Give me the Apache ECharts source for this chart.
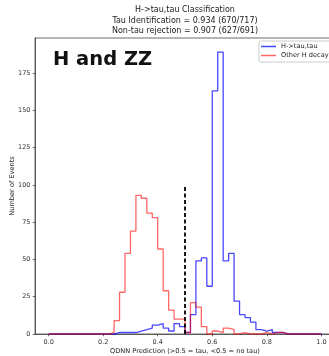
<!DOCTYPE html>
<html>
<head>
<meta charset="utf-8">
<script src="https://cdn.jsdelivr.net/npm/echarts@6/dist/echarts.min.js"></script>
<style>html,body{margin:0;padding:0;background:#fff;}#c{width:329px;height:356px;}</style>
</head>
<body>
<div id="c"></div>
<script>
// bin edges: 0.00 .. 1.00 step 0.02 (50 bins)
const binEdges = [0.00,0.02,0.04,0.06,0.08,0.10,0.12,0.14,0.16,0.18,0.20,0.22,0.24,0.26,0.28,0.30,0.32,0.34,0.36,0.38,0.40,0.42,0.44,0.46,0.48,0.50,0.52,0.54,0.56,0.58,0.60,0.62,0.64,0.66,0.68,0.70,0.72,0.74,0.76,0.78,0.80,0.82,0.84,0.86,0.88,0.90,0.92,0.94,0.96,0.98,1.00];
const tauCounts = [0,0,0,0,0,0,0,0,0,0, 0,0,1,1,1,1,2,3,4,6, 7,4,2,7,5,1,13,49,51,32, 163,189,49,54,22,13,11,8,3,2, 3,1,1,0,0,0,0,0,0,0];
const otherCounts = [0,0,0,0,0,0,0,0,0,0, 0,1,9,28,54,69,93,91,81,78, 57,29,16,10,10,1,21,18,5,0, 2,1,4,3,0,1,0,0,0,1, 0,1,1,0,0,0,0,0,0,0];
const seriesNames = ['H->tau,tau','Other H decay'];
const xTicks = [0.0,0.2,0.4,0.6,0.8,1.0];
const yTicks = [0,25,50,75,100,125,150,175];
const cutValue = 0.5;
const cutHeight = 100;
const titleLines = ['H->tau,tau Classification','Tau Identification = 0.934 (670/717)','Non-tau rejection = 0.907 (627/691)'];
const annotation = 'H and ZZ';
const xName = 'QDNN Prediction (>0.5 = tau, <0.5 = no tau)';
const yName = 'Number of Events';

function stepData(counts){
  const d = [[binEdges[0],0]];
  for(let i=0;i<counts.length;i++) d.push([binEdges[i],counts[i]]);
  d.push([binEdges[binEdges.length-1],counts[counts.length-1]]);
  d.push([binEdges[binEdges.length-1],0]);
  return d;
}
const FONT = 'DejaVu Sans';
const chart = echarts.init(document.getElementById('c'), null, {renderer:'canvas'});
const axisCol = '#444';
chart.setOption({
  animation:false,
  backgroundColor:'#fff',
  title:{
    text: titleLines.join('\n'),
    left:185, top:5, textAlign:'center', padding:0,
    textStyle:{fontFamily:FONT,fontSize:8,fontWeight:'normal',color:'#222',lineHeight:10.3}
  },
  grid:{left:35,top:38,right:-6,bottom:22,show:true,borderColor:axisCol,borderWidth:0.8,containLabel:false,outerBoundsMode:'none'},
  legend:{
    orient:'vertical', left:259, top:41,
    padding:[2,60,3,2], itemGap:2, itemWidth:15, itemHeight:1.5,
    backgroundColor:'#fff', borderColor:'#ccc', borderWidth:1, borderRadius:2,
    textStyle:{fontFamily:FONT,fontSize:6.6,color:'#222'},
    data:[{name:seriesNames[0],icon:'rect'},{name:seriesNames[1],icon:'rect'}]
  },
  xAxis:{
    type:'value', min:-0.05, max:1.05,
    name:xName, nameLocation:'middle', nameGap:13.5, nameMoveOverlap:false,
    nameTextStyle:{fontFamily:FONT,fontSize:6.6,color:'#222'},
    axisLine:{onZero:false,lineStyle:{color:axisCol,width:0.8}},
    axisTick:{show:true,length:2.3,lineStyle:{color:axisCol,width:0.8},customValues:xTicks},
    axisLabel:{fontFamily:FONT,fontSize:6.5,color:'#333',margin:5,customValues:xTicks,formatter:v=>v.toFixed(1)},
    splitLine:{show:false}
  },
  yAxis:{
    type:'value', min:0, max:198.45,
    name:yName, nameLocation:'middle', nameGap:19, nameRotate:90, nameMoveOverlap:false,
    nameTextStyle:{fontFamily:FONT,fontSize:6.6,color:'#222'},
    axisLine:{show:true,onZero:false,lineStyle:{color:axisCol,width:0.8}},
    axisTick:{show:true,length:2.3,lineStyle:{color:axisCol,width:0.8},customValues:yTicks},
    axisLabel:{fontFamily:FONT,fontSize:6.5,color:'#333',margin:4.5,customValues:yTicks},
    splitLine:{show:false}
  },
  graphic:[{
    type:'text', left:53, top:50,
    style:{text:annotation,fontFamily:FONT,fontWeight:'bold',fontSize:19.5,fill:'#111'}
  }],
  series:[
    {name:seriesNames[0],type:'line',step:'end',showSymbol:false,symbol:'none',
     data:stepData(tauCounts),color:'rgba(0,0,255,0.72)',
     lineStyle:{color:'rgba(0,0,255,0.72)',width:1.3}},
    {name:seriesNames[1],type:'line',step:'end',showSymbol:false,symbol:'none',
     data:stepData(otherCounts),color:'rgba(255,0,0,0.6)',
     lineStyle:{color:'rgba(255,0,0,0.6)',width:1.3}},
    {name:'cut',type:'line',showSymbol:false,symbol:'none',
     data:[[cutValue,0],[cutValue,cutHeight]],
     lineStyle:{color:'#000',width:1.8,type:[4,2.5]}}
  ]
});
</script>
</body>
</html>
